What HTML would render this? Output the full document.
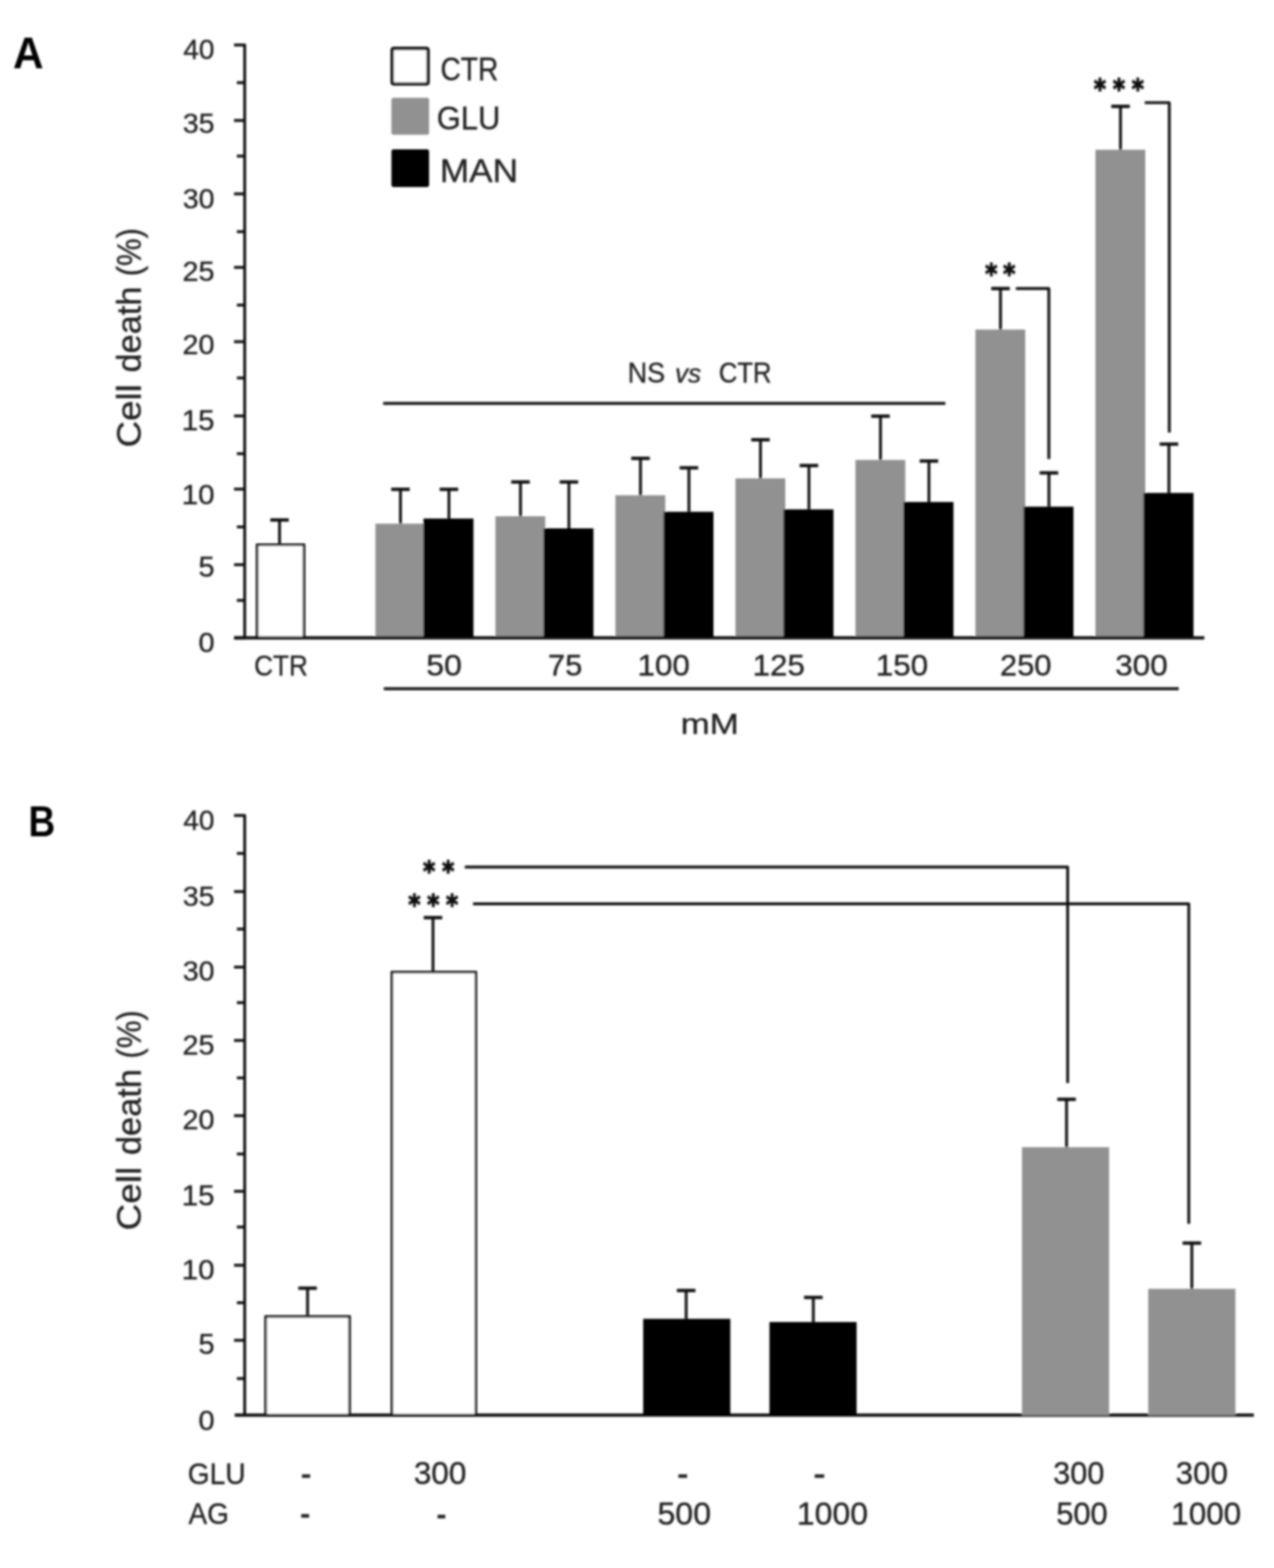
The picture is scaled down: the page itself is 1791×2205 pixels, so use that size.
<!DOCTYPE html>
<html><head><meta charset="utf-8"><title>Cell death figure</title>
<style>
html,body{margin:0;padding:0;background:#fff;}
svg{display:block;}
</style></head>
<body>
<svg width="1791" height="2205" viewBox="0 0 1791 2205">
<defs><filter id="soft" x="0" y="0" width="1791" height="2205" filterUnits="userSpaceOnUse"><feGaussianBlur stdDeviation="1.4"/></filter></defs>
<rect width="1791" height="2205" fill="#fff"/>
<g filter="url(#soft)">
<rect x="361.50" y="766.20" width="65.90" height="130.80" fill="#fff" stroke="#0a0a0a" stroke-width="3.6"/>
<line x1="393.00" y1="764.40" x2="393.00" y2="731.20" stroke="#0a0a0a" stroke-width="3.9" stroke-linecap="butt"/>
<line x1="380.00" y1="731.20" x2="406.00" y2="731.20" stroke="#0a0a0a" stroke-width="4.6" stroke-linecap="butt"/>
<rect x="527.80" y="736.40" width="70.00" height="160.60" fill="#919191"/>
<rect x="595.40" y="729.20" width="70.20" height="167.80" fill="#000"/>
<line x1="563.00" y1="736.40" x2="563.00" y2="688.10" stroke="#0a0a0a" stroke-width="3.9" stroke-linecap="butt"/>
<line x1="550.00" y1="688.10" x2="576.00" y2="688.10" stroke="#0a0a0a" stroke-width="4.6" stroke-linecap="butt"/>
<line x1="631.10" y1="729.20" x2="631.10" y2="688.10" stroke="#0a0a0a" stroke-width="3.9" stroke-linecap="butt"/>
<line x1="618.10" y1="688.10" x2="644.10" y2="688.10" stroke="#0a0a0a" stroke-width="4.6" stroke-linecap="butt"/>
<rect x="696.50" y="726.00" width="70.00" height="171.00" fill="#919191"/>
<rect x="764.10" y="743.00" width="70.20" height="154.00" fill="#000"/>
<line x1="731.70" y1="726.00" x2="731.70" y2="677.80" stroke="#0a0a0a" stroke-width="3.9" stroke-linecap="butt"/>
<line x1="718.70" y1="677.80" x2="744.70" y2="677.80" stroke="#0a0a0a" stroke-width="4.6" stroke-linecap="butt"/>
<line x1="799.80" y1="743.00" x2="799.80" y2="677.80" stroke="#0a0a0a" stroke-width="3.9" stroke-linecap="butt"/>
<line x1="786.80" y1="677.80" x2="812.80" y2="677.80" stroke="#0a0a0a" stroke-width="4.6" stroke-linecap="butt"/>
<rect x="865.20" y="696.50" width="70.00" height="200.50" fill="#919191"/>
<rect x="932.80" y="719.70" width="70.20" height="177.30" fill="#000"/>
<line x1="900.40" y1="696.50" x2="900.40" y2="644.60" stroke="#0a0a0a" stroke-width="3.9" stroke-linecap="butt"/>
<line x1="887.40" y1="644.60" x2="913.40" y2="644.60" stroke="#0a0a0a" stroke-width="4.6" stroke-linecap="butt"/>
<line x1="968.50" y1="719.70" x2="968.50" y2="657.90" stroke="#0a0a0a" stroke-width="3.9" stroke-linecap="butt"/>
<line x1="955.50" y1="657.90" x2="981.50" y2="657.90" stroke="#0a0a0a" stroke-width="4.6" stroke-linecap="butt"/>
<rect x="1033.90" y="672.70" width="70.00" height="224.30" fill="#919191"/>
<rect x="1101.50" y="716.30" width="70.20" height="180.70" fill="#000"/>
<line x1="1069.10" y1="672.70" x2="1069.10" y2="618.40" stroke="#0a0a0a" stroke-width="3.9" stroke-linecap="butt"/>
<line x1="1056.10" y1="618.40" x2="1082.10" y2="618.40" stroke="#0a0a0a" stroke-width="4.6" stroke-linecap="butt"/>
<line x1="1137.20" y1="716.30" x2="1137.20" y2="654.70" stroke="#0a0a0a" stroke-width="3.9" stroke-linecap="butt"/>
<line x1="1124.20" y1="654.70" x2="1150.20" y2="654.70" stroke="#0a0a0a" stroke-width="4.6" stroke-linecap="butt"/>
<rect x="1202.60" y="646.80" width="70.00" height="250.20" fill="#919191"/>
<rect x="1270.20" y="705.90" width="70.20" height="191.10" fill="#000"/>
<line x1="1237.80" y1="646.80" x2="1237.80" y2="585.20" stroke="#0a0a0a" stroke-width="3.9" stroke-linecap="butt"/>
<line x1="1224.80" y1="585.20" x2="1250.80" y2="585.20" stroke="#0a0a0a" stroke-width="4.6" stroke-linecap="butt"/>
<line x1="1305.90" y1="705.90" x2="1305.90" y2="648.30" stroke="#0a0a0a" stroke-width="3.9" stroke-linecap="butt"/>
<line x1="1292.90" y1="648.30" x2="1318.90" y2="648.30" stroke="#0a0a0a" stroke-width="4.6" stroke-linecap="butt"/>
<rect x="1371.30" y="463.40" width="70.00" height="433.60" fill="#919191"/>
<rect x="1438.90" y="712.50" width="70.20" height="184.50" fill="#000"/>
<line x1="1406.50" y1="463.40" x2="1406.50" y2="405.80" stroke="#0a0a0a" stroke-width="3.9" stroke-linecap="butt"/>
<line x1="1393.50" y1="405.80" x2="1419.50" y2="405.80" stroke="#0a0a0a" stroke-width="4.6" stroke-linecap="butt"/>
<line x1="1474.60" y1="712.50" x2="1474.60" y2="665.00" stroke="#0a0a0a" stroke-width="3.9" stroke-linecap="butt"/>
<line x1="1461.60" y1="665.00" x2="1487.60" y2="665.00" stroke="#0a0a0a" stroke-width="4.6" stroke-linecap="butt"/>
<rect x="1540.00" y="210.60" width="70.00" height="686.40" fill="#919191"/>
<rect x="1607.60" y="693.20" width="70.20" height="203.80" fill="#000"/>
<line x1="1575.20" y1="210.60" x2="1575.20" y2="149.60" stroke="#0a0a0a" stroke-width="3.9" stroke-linecap="butt"/>
<line x1="1562.20" y1="149.60" x2="1588.20" y2="149.60" stroke="#0a0a0a" stroke-width="4.6" stroke-linecap="butt"/>
<line x1="1643.30" y1="693.20" x2="1643.30" y2="624.50" stroke="#0a0a0a" stroke-width="3.9" stroke-linecap="butt"/>
<line x1="1630.30" y1="624.50" x2="1656.30" y2="624.50" stroke="#0a0a0a" stroke-width="4.6" stroke-linecap="butt"/>
<path d="M329,63.2 H344.0 V898.5" fill="none" stroke="#0a0a0a" stroke-width="3.9" stroke-linejoin="round"/>
<line x1="329.00" y1="897.00" x2="1693.00" y2="897.00" stroke="#0a0a0a" stroke-width="4.4" stroke-linecap="butt"/>
<line x1="333.00" y1="844.30" x2="344.00" y2="844.30" stroke="#0a0a0a" stroke-width="3.9" stroke-linecap="butt"/>
<line x1="329.00" y1="794.10" x2="344.00" y2="794.10" stroke="#0a0a0a" stroke-width="3.9" stroke-linecap="butt"/>
<line x1="333.00" y1="741.00" x2="344.00" y2="741.00" stroke="#0a0a0a" stroke-width="3.9" stroke-linecap="butt"/>
<line x1="329.00" y1="687.80" x2="344.00" y2="687.80" stroke="#0a0a0a" stroke-width="3.9" stroke-linecap="butt"/>
<line x1="333.00" y1="638.00" x2="344.00" y2="638.00" stroke="#0a0a0a" stroke-width="3.9" stroke-linecap="butt"/>
<line x1="329.00" y1="584.90" x2="344.00" y2="584.90" stroke="#0a0a0a" stroke-width="3.9" stroke-linecap="butt"/>
<line x1="333.00" y1="531.50" x2="344.00" y2="531.50" stroke="#0a0a0a" stroke-width="3.9" stroke-linecap="butt"/>
<line x1="329.00" y1="480.50" x2="344.00" y2="480.50" stroke="#0a0a0a" stroke-width="3.9" stroke-linecap="butt"/>
<line x1="333.00" y1="429.00" x2="344.00" y2="429.00" stroke="#0a0a0a" stroke-width="3.9" stroke-linecap="butt"/>
<line x1="329.00" y1="376.00" x2="344.00" y2="376.00" stroke="#0a0a0a" stroke-width="3.9" stroke-linecap="butt"/>
<line x1="333.00" y1="325.80" x2="344.00" y2="325.80" stroke="#0a0a0a" stroke-width="3.9" stroke-linecap="butt"/>
<line x1="329.00" y1="272.60" x2="344.00" y2="272.60" stroke="#0a0a0a" stroke-width="3.9" stroke-linecap="butt"/>
<line x1="333.00" y1="219.50" x2="344.00" y2="219.50" stroke="#0a0a0a" stroke-width="3.9" stroke-linecap="butt"/>
<line x1="329.00" y1="169.40" x2="344.00" y2="169.40" stroke="#0a0a0a" stroke-width="3.9" stroke-linecap="butt"/>
<line x1="333.00" y1="116.30" x2="344.00" y2="116.30" stroke="#0a0a0a" stroke-width="3.9" stroke-linecap="butt"/>
<line x1="329.00" y1="897.00" x2="344.00" y2="897.00" stroke="#0a0a0a" stroke-width="4.4" stroke-linecap="butt"/>
<text transform="translate(257.64,83.08) scale(0.9993,1)" font-family="'Liberation Sans', sans-serif" font-size="39.51" font-weight="normal" font-style="normal" fill="#222222" stroke="#222222" stroke-width="0.45" stroke-linejoin="round">40</text>
<text transform="translate(257.02,186.58) scale(1.0162,1)" font-family="'Liberation Sans', sans-serif" font-size="39.51" font-weight="normal" font-style="normal" fill="#222222" stroke="#222222" stroke-width="0.45" stroke-linejoin="round">35</text>
<text transform="translate(257.02,293.08) scale(1.0137,1)" font-family="'Liberation Sans', sans-serif" font-size="39.51" font-weight="normal" font-style="normal" fill="#222222" stroke="#222222" stroke-width="0.45" stroke-linejoin="round">30</text>
<text transform="translate(256.49,395.28) scale(1.0287,1)" font-family="'Liberation Sans', sans-serif" font-size="39.51" font-weight="normal" font-style="normal" fill="#222222" stroke="#222222" stroke-width="0.45" stroke-linejoin="round">25</text>
<text transform="translate(256.50,497.78) scale(1.0261,1)" font-family="'Liberation Sans', sans-serif" font-size="39.51" font-weight="normal" font-style="normal" fill="#222222" stroke="#222222" stroke-width="0.45" stroke-linejoin="round">20</text>
<text transform="translate(255.40,605.47) scale(1.0396,1)" font-family="'Liberation Sans', sans-serif" font-size="40.07" font-weight="normal" font-style="normal" fill="#222222" stroke="#222222" stroke-width="0.45" stroke-linejoin="round">15</text>
<text transform="translate(255.41,708.78) scale(1.0519,1)" font-family="'Liberation Sans', sans-serif" font-size="39.51" font-weight="normal" font-style="normal" fill="#222222" stroke="#222222" stroke-width="0.45" stroke-linejoin="round">10</text>
<text transform="translate(278.89,811.07) scale(1.0219,1)" font-family="'Liberation Sans', sans-serif" font-size="40.07" font-weight="normal" font-style="normal" fill="#222222" stroke="#222222" stroke-width="0.45" stroke-linejoin="round">5</text>
<text transform="translate(278.90,917.08) scale(1.0311,1)" font-family="'Liberation Sans', sans-serif" font-size="39.51" font-weight="normal" font-style="normal" fill="#222222" stroke="#222222" stroke-width="0.45" stroke-linejoin="round">0</text>
<text transform="translate(197.97,629.37) rotate(-90) scale(1.0747,1)" font-family="'Liberation Sans', sans-serif" font-size="48.20" fill="#222222" stroke="#222222" stroke-width="0.45" stroke-linejoin="round">Cell</text>
<text transform="translate(197.97,523.83) rotate(-90) scale(1.0026,1)" font-family="'Liberation Sans', sans-serif" font-size="48.20" fill="#222222" stroke="#222222" stroke-width="0.45" stroke-linejoin="round">death</text>
<text transform="translate(197.97,388.40) rotate(-90) scale(0.9045,1)" font-family="'Liberation Sans', sans-serif" font-size="48.20" fill="#222222" stroke="#222222" stroke-width="0.45" stroke-linejoin="round">(%)</text>
<text transform="translate(18.31,96.20) scale(0.9326,1)" font-family="'Liberation Sans', sans-serif" font-size="63.85" font-weight="bold" font-style="normal" fill="#000">A</text>
<rect x="551.3" y="68.1" width="50.5" height="49.9" rx="2" fill="#fff" stroke="#0a0a0a" stroke-width="4.6"/>
<rect x="550.3" y="137.4" width="52.9" height="52" rx="3" fill="#919191"/>
<rect x="550.3" y="210" width="52.9" height="53" rx="3" fill="#000"/>
<text transform="translate(619.24,112.52) scale(0.8718,1)" font-family="'Liberation Sans', sans-serif" font-size="45.44" font-weight="normal" font-style="normal" fill="#222222" stroke="#222222" stroke-width="0.45" stroke-linejoin="round">CTR</text>
<text transform="translate(614.06,182.21) scale(0.9346,1)" font-family="'Liberation Sans', sans-serif" font-size="46.43" font-weight="normal" font-style="normal" fill="#222222" stroke="#222222" stroke-width="0.45" stroke-linejoin="round">GLU</text>
<text transform="translate(618.14,255.58) scale(1.0563,1)" font-family="'Liberation Sans', sans-serif" font-size="46.91" font-weight="normal" font-style="normal" fill="#222222" stroke="#222222" stroke-width="0.45" stroke-linejoin="round">MAN</text>
<line x1="538.70" y1="567.30" x2="1329.00" y2="567.30" stroke="#0a0a0a" stroke-width="3.9" stroke-linecap="butt"/>
<text transform="translate(882.41,537.57) scale(0.9242,1)" font-family="'Liberation Sans', sans-serif" font-size="40.92" font-weight="normal" font-style="normal" fill="#222222" stroke="#222222" stroke-width="0.45" stroke-linejoin="round">NS</text>
<text transform="translate(949.01,537.60) scale(0.9875,1)" font-family="'Liberation Sans', sans-serif" font-size="37.17" font-weight="normal" font-style="italic" fill="#222222" stroke="#222222" stroke-width="0.45" stroke-linejoin="round">vs</text>
<text transform="translate(1010.42,537.57) scale(0.8833,1)" font-family="'Liberation Sans', sans-serif" font-size="40.92" font-weight="normal" font-style="normal" fill="#222222" stroke="#222222" stroke-width="0.45" stroke-linejoin="round">CTR</text>
<path d="M1428.2,405.8 H1474.5 V645.6" fill="none" stroke="#0a0a0a" stroke-width="3.9" stroke-linejoin="round"/>
<path d="M1609.3,144.4 H1643.8 V608.3" fill="none" stroke="#0a0a0a" stroke-width="3.9" stroke-linejoin="round"/>
<text transform="translate(1384.95,398.94) scale(0.8459,1)" font-family="'DejaVu Sans', sans-serif" font-size="38.71" font-weight="bold" letter-spacing="9.55" fill="#111" stroke="#111" stroke-width="1.6" stroke-linejoin="round">**</text>
<text transform="translate(1537.85,139.44) scale(0.8459,1)" font-family="'DejaVu Sans', sans-serif" font-size="38.71" font-weight="bold" letter-spacing="11.20" fill="#111" stroke="#111" stroke-width="1.6" stroke-linejoin="round">***</text>
<text transform="translate(357.19,950.17) scale(0.9109,1)" font-family="'Liberation Sans', sans-serif" font-size="40.35" font-weight="normal" font-style="normal" fill="#222222" stroke="#222222" stroke-width="0.45" stroke-linejoin="round">CTR</text>
<text transform="translate(599.23,950.16) scale(1.0771,1)" font-family="'Liberation Sans', sans-serif" font-size="41.77" font-weight="normal" font-style="normal" fill="#222222" stroke="#222222" stroke-width="0.45" stroke-linejoin="round">50</text>
<text transform="translate(770.24,950.15) scale(1.0265,1)" font-family="'Liberation Sans', sans-serif" font-size="42.37" font-weight="normal" font-style="normal" fill="#222222" stroke="#222222" stroke-width="0.45" stroke-linejoin="round">75</text>
<text transform="translate(896.22,950.16) scale(1.0539,1)" font-family="'Liberation Sans', sans-serif" font-size="41.77" font-weight="normal" font-style="normal" fill="#222222" stroke="#222222" stroke-width="0.45" stroke-linejoin="round">100</text>
<text transform="translate(1057.91,950.16) scale(1.0572,1)" font-family="'Liberation Sans', sans-serif" font-size="41.77" font-weight="normal" font-style="normal" fill="#222222" stroke="#222222" stroke-width="0.45" stroke-linejoin="round">125</text>
<text transform="translate(1231.32,950.16) scale(1.0555,1)" font-family="'Liberation Sans', sans-serif" font-size="41.77" font-weight="normal" font-style="normal" fill="#222222" stroke="#222222" stroke-width="0.45" stroke-linejoin="round">150</text>
<text transform="translate(1405.86,950.16) scale(1.0388,1)" font-family="'Liberation Sans', sans-serif" font-size="41.77" font-weight="normal" font-style="normal" fill="#222222" stroke="#222222" stroke-width="0.45" stroke-linejoin="round">250</text>
<text transform="translate(1567.66,950.16) scale(1.0607,1)" font-family="'Liberation Sans', sans-serif" font-size="41.77" font-weight="normal" font-style="normal" fill="#222222" stroke="#222222" stroke-width="0.45" stroke-linejoin="round">300</text>
<line x1="539.60" y1="968.50" x2="1657.00" y2="968.50" stroke="#0a0a0a" stroke-width="3.9" stroke-linecap="butt"/>
<text transform="translate(956.70,1031.97) scale(1.2018,1)" font-family="'Liberation Sans', sans-serif" font-size="40.95" font-weight="normal" font-style="normal" fill="#222222" stroke="#222222" stroke-width="0.45" stroke-linejoin="round">mM</text>
<path d="M329,1146.8 H344.0 V1991.5" fill="none" stroke="#0a0a0a" stroke-width="3.9" stroke-linejoin="round"/>
<line x1="330.00" y1="1990.00" x2="1762.60" y2="1990.00" stroke="#0a0a0a" stroke-width="4.4" stroke-linecap="butt"/>
<line x1="333.00" y1="1938.60" x2="344.00" y2="1938.60" stroke="#0a0a0a" stroke-width="3.9" stroke-linecap="butt"/>
<line x1="329.00" y1="1884.80" x2="344.00" y2="1884.80" stroke="#0a0a0a" stroke-width="3.9" stroke-linecap="butt"/>
<line x1="333.00" y1="1832.00" x2="344.00" y2="1832.00" stroke="#0a0a0a" stroke-width="3.9" stroke-linecap="butt"/>
<line x1="329.00" y1="1779.30" x2="344.00" y2="1779.30" stroke="#0a0a0a" stroke-width="3.9" stroke-linecap="butt"/>
<line x1="333.00" y1="1725.50" x2="344.00" y2="1725.50" stroke="#0a0a0a" stroke-width="3.9" stroke-linecap="butt"/>
<line x1="329.00" y1="1675.30" x2="344.00" y2="1675.30" stroke="#0a0a0a" stroke-width="3.9" stroke-linecap="butt"/>
<line x1="333.00" y1="1622.80" x2="344.00" y2="1622.80" stroke="#0a0a0a" stroke-width="3.9" stroke-linecap="butt"/>
<line x1="329.00" y1="1568.90" x2="344.00" y2="1568.90" stroke="#0a0a0a" stroke-width="3.9" stroke-linecap="butt"/>
<line x1="333.00" y1="1515.80" x2="344.00" y2="1515.80" stroke="#0a0a0a" stroke-width="3.9" stroke-linecap="butt"/>
<line x1="329.00" y1="1463.10" x2="344.00" y2="1463.10" stroke="#0a0a0a" stroke-width="3.9" stroke-linecap="butt"/>
<line x1="333.00" y1="1410.00" x2="344.00" y2="1410.00" stroke="#0a0a0a" stroke-width="3.9" stroke-linecap="butt"/>
<line x1="329.00" y1="1360.00" x2="344.00" y2="1360.00" stroke="#0a0a0a" stroke-width="3.9" stroke-linecap="butt"/>
<line x1="333.00" y1="1306.50" x2="344.00" y2="1306.50" stroke="#0a0a0a" stroke-width="3.9" stroke-linecap="butt"/>
<line x1="329.00" y1="1253.80" x2="344.00" y2="1253.80" stroke="#0a0a0a" stroke-width="3.9" stroke-linecap="butt"/>
<line x1="333.00" y1="1200.10" x2="344.00" y2="1200.10" stroke="#0a0a0a" stroke-width="3.9" stroke-linecap="butt"/>
<text transform="translate(257.64,1167.28) scale(0.9993,1)" font-family="'Liberation Sans', sans-serif" font-size="39.51" font-weight="normal" font-style="normal" fill="#222222" stroke="#222222" stroke-width="0.45" stroke-linejoin="round">40</text>
<text transform="translate(257.02,1273.58) scale(1.0162,1)" font-family="'Liberation Sans', sans-serif" font-size="39.51" font-weight="normal" font-style="normal" fill="#222222" stroke="#222222" stroke-width="0.45" stroke-linejoin="round">35</text>
<text transform="translate(257.02,1379.38) scale(1.0137,1)" font-family="'Liberation Sans', sans-serif" font-size="39.51" font-weight="normal" font-style="normal" fill="#222222" stroke="#222222" stroke-width="0.45" stroke-linejoin="round">30</text>
<text transform="translate(256.49,1483.08) scale(1.0287,1)" font-family="'Liberation Sans', sans-serif" font-size="39.51" font-weight="normal" font-style="normal" fill="#222222" stroke="#222222" stroke-width="0.45" stroke-linejoin="round">25</text>
<text transform="translate(256.50,1588.38) scale(1.0261,1)" font-family="'Liberation Sans', sans-serif" font-size="39.51" font-weight="normal" font-style="normal" fill="#222222" stroke="#222222" stroke-width="0.45" stroke-linejoin="round">20</text>
<text transform="translate(255.40,1695.47) scale(1.0396,1)" font-family="'Liberation Sans', sans-serif" font-size="40.07" font-weight="normal" font-style="normal" fill="#222222" stroke="#222222" stroke-width="0.45" stroke-linejoin="round">15</text>
<text transform="translate(255.41,1798.78) scale(1.0519,1)" font-family="'Liberation Sans', sans-serif" font-size="39.51" font-weight="normal" font-style="normal" fill="#222222" stroke="#222222" stroke-width="0.45" stroke-linejoin="round">10</text>
<text transform="translate(278.89,1903.77) scale(1.0219,1)" font-family="'Liberation Sans', sans-serif" font-size="40.07" font-weight="normal" font-style="normal" fill="#222222" stroke="#222222" stroke-width="0.45" stroke-linejoin="round">5</text>
<text transform="translate(278.90,2010.58) scale(1.0311,1)" font-family="'Liberation Sans', sans-serif" font-size="39.51" font-weight="normal" font-style="normal" fill="#222222" stroke="#222222" stroke-width="0.45" stroke-linejoin="round">0</text>
<text transform="translate(197.97,1730.17) rotate(-90) scale(1.0773,1)" font-family="'Liberation Sans', sans-serif" font-size="48.20" fill="#222222" stroke="#222222" stroke-width="0.45" stroke-linejoin="round">Cell</text>
<text transform="translate(197.97,1624.33) rotate(-90) scale(1.0026,1)" font-family="'Liberation Sans', sans-serif" font-size="48.20" fill="#222222" stroke="#222222" stroke-width="0.45" stroke-linejoin="round">death</text>
<text transform="translate(197.97,1488.71) rotate(-90) scale(0.9089,1)" font-family="'Liberation Sans', sans-serif" font-size="48.20" fill="#222222" stroke="#222222" stroke-width="0.45" stroke-linejoin="round">(%)</text>
<text transform="translate(39.88,1175.70) scale(0.8493,1)" font-family="'Liberation Sans', sans-serif" font-size="61.38" font-weight="bold" font-style="normal" fill="#000">B</text>
<rect x="373.50" y="1851.40" width="117.90" height="138.60" fill="#fff" stroke="#0a0a0a" stroke-width="3.6"/>
<line x1="432.40" y1="1849.60" x2="432.40" y2="1811.50" stroke="#0a0a0a" stroke-width="3.9" stroke-linecap="butt"/>
<line x1="419.40" y1="1811.50" x2="445.40" y2="1811.50" stroke="#0a0a0a" stroke-width="4.6" stroke-linecap="butt"/>
<rect x="551.00" y="1367.10" width="117.90" height="622.90" fill="#fff" stroke="#0a0a0a" stroke-width="3.6"/>
<line x1="608.70" y1="1365.30" x2="608.70" y2="1290.40" stroke="#0a0a0a" stroke-width="3.9" stroke-linecap="butt"/>
<line x1="595.70" y1="1290.40" x2="621.70" y2="1290.40" stroke="#0a0a0a" stroke-width="4.6" stroke-linecap="butt"/>
<rect x="904.20" y="1854.60" width="122.50" height="135.40" fill="#000"/>
<line x1="964.60" y1="1854.60" x2="964.60" y2="1814.80" stroke="#0a0a0a" stroke-width="3.9" stroke-linecap="butt"/>
<line x1="951.60" y1="1814.80" x2="977.60" y2="1814.80" stroke="#0a0a0a" stroke-width="4.6" stroke-linecap="butt"/>
<rect x="1081.70" y="1859.10" width="122.50" height="130.90" fill="#000"/>
<line x1="1143.40" y1="1859.10" x2="1143.40" y2="1824.50" stroke="#0a0a0a" stroke-width="3.9" stroke-linecap="butt"/>
<line x1="1130.40" y1="1824.50" x2="1156.40" y2="1824.50" stroke="#0a0a0a" stroke-width="4.6" stroke-linecap="butt"/>
<rect x="1436.70" y="1613.30" width="122.50" height="376.70" fill="#919191"/>
<line x1="1499.40" y1="1613.30" x2="1499.40" y2="1545.90" stroke="#0a0a0a" stroke-width="3.9" stroke-linecap="butt"/>
<line x1="1486.40" y1="1545.90" x2="1512.40" y2="1545.90" stroke="#0a0a0a" stroke-width="4.6" stroke-linecap="butt"/>
<rect x="1614.20" y="1812.40" width="122.50" height="177.60" fill="#919191"/>
<line x1="1675.50" y1="1812.40" x2="1675.50" y2="1748.10" stroke="#0a0a0a" stroke-width="3.9" stroke-linecap="butt"/>
<line x1="1662.50" y1="1748.10" x2="1688.50" y2="1748.10" stroke="#0a0a0a" stroke-width="4.6" stroke-linecap="butt"/>
<path d="M653.5,1219.2 H1500.9 V1523" fill="none" stroke="#0a0a0a" stroke-width="3.9" stroke-linejoin="round"/>
<path d="M665,1271 H1671.2 V1721" fill="none" stroke="#0a0a0a" stroke-width="3.9" stroke-linejoin="round"/>
<text transform="translate(594.75,1239.24) scale(0.8459,1)" font-family="'DejaVu Sans', sans-serif" font-size="38.71" font-weight="bold" letter-spacing="11.32" fill="#111" stroke="#111" stroke-width="1.6" stroke-linejoin="round">**</text>
<text transform="translate(574.05,1286.24) scale(0.8459,1)" font-family="'DejaVu Sans', sans-serif" font-size="38.71" font-weight="bold" letter-spacing="11.08" fill="#111" stroke="#111" stroke-width="1.6" stroke-linejoin="round">***</text>
<text transform="translate(264.05,2086.75) scale(0.9259,1)" font-family="'Liberation Sans', sans-serif" font-size="42.61" font-weight="normal" font-style="normal" fill="#222222" stroke="#222222" stroke-width="0.45" stroke-linejoin="round">GLU</text>
<text transform="translate(264.93,2143.25) scale(0.9193,1)" font-family="'Liberation Sans', sans-serif" font-size="42.76" font-weight="normal" font-style="normal" fill="#222222" stroke="#222222" stroke-width="0.45" stroke-linejoin="round">AG</text>
<text transform="translate(581.66,2087.14) scale(1.0109,1)" font-family="'Liberation Sans', sans-serif" font-size="43.89" font-weight="normal" font-style="normal" fill="#222222" stroke="#222222" stroke-width="0.45" stroke-linejoin="round">300</text>
<text transform="translate(1480.40,2087.14) scale(0.9866,1)" font-family="'Liberation Sans', sans-serif" font-size="43.89" font-weight="normal" font-style="normal" fill="#222222" stroke="#222222" stroke-width="0.45" stroke-linejoin="round">300</text>
<text transform="translate(1652.78,2087.14) scale(1.0023,1)" font-family="'Liberation Sans', sans-serif" font-size="43.89" font-weight="normal" font-style="normal" fill="#222222" stroke="#222222" stroke-width="0.45" stroke-linejoin="round">300</text>
<text transform="translate(924.22,2143.94) scale(1.0363,1)" font-family="'Liberation Sans', sans-serif" font-size="43.60" font-weight="normal" font-style="normal" fill="#222222" stroke="#222222" stroke-width="0.45" stroke-linejoin="round">500</text>
<text transform="translate(1120.36,2143.94) scale(1.0287,1)" font-family="'Liberation Sans', sans-serif" font-size="43.60" font-weight="normal" font-style="normal" fill="#222222" stroke="#222222" stroke-width="0.45" stroke-linejoin="round">1000</text>
<text transform="translate(1484.89,2143.94) scale(0.9931,1)" font-family="'Liberation Sans', sans-serif" font-size="43.60" font-weight="normal" font-style="normal" fill="#222222" stroke="#222222" stroke-width="0.45" stroke-linejoin="round">500</text>
<text transform="translate(1646.61,2143.94) scale(1.0124,1)" font-family="'Liberation Sans', sans-serif" font-size="43.60" font-weight="normal" font-style="normal" fill="#222222" stroke="#222222" stroke-width="0.45" stroke-linejoin="round">1000</text>
<text transform="translate(422.67,2090.93) scale(0.7761,1)" font-family="'Liberation Sans', sans-serif" font-size="58.71" font-weight="normal" font-style="normal" fill="#222222" stroke="#222222" stroke-width="0.45" stroke-linejoin="round">-</text>
<text transform="translate(951.83,2091.13) scale(0.8323,1)" font-family="'Liberation Sans', sans-serif" font-size="58.71" font-weight="normal" font-style="normal" fill="#222222" stroke="#222222" stroke-width="0.45" stroke-linejoin="round">-</text>
<text transform="translate(1143.16,2091.13) scale(0.8955,1)" font-family="'Liberation Sans', sans-serif" font-size="58.71" font-weight="normal" font-style="normal" fill="#222222" stroke="#222222" stroke-width="0.45" stroke-linejoin="round">-</text>
<text transform="translate(421.77,2147.43) scale(0.7410,1)" font-family="'Liberation Sans', sans-serif" font-size="58.71" font-weight="normal" font-style="normal" fill="#222222" stroke="#222222" stroke-width="0.45" stroke-linejoin="round">-</text>
<text transform="translate(613.35,2147.63) scale(0.7480,1)" font-family="'Liberation Sans', sans-serif" font-size="58.71" font-weight="normal" font-style="normal" fill="#222222" stroke="#222222" stroke-width="0.45" stroke-linejoin="round">-</text>
</g>
</svg>
</body></html>
